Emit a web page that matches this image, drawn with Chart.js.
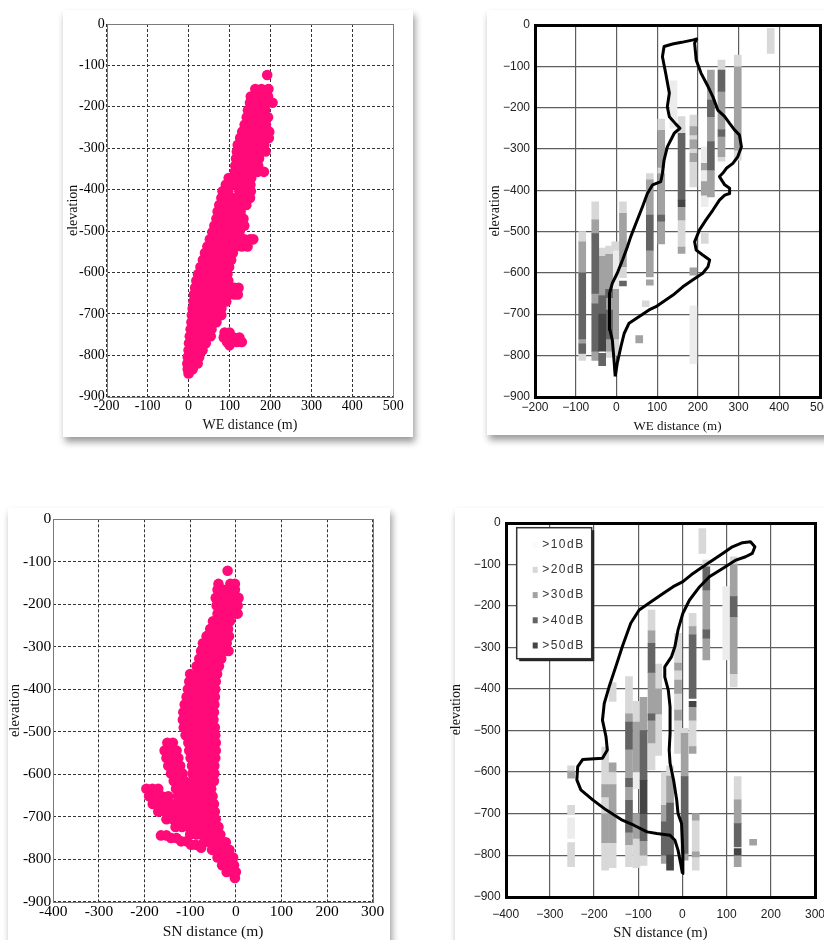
<!DOCTYPE html>
<html>
<head>
<meta charset="utf-8">
<script src="https://cdn.jsdelivr.net/npm/chart.js@4/dist/chart.umd.min.js"></script>
<style>
  html, body { margin: 0; padding: 0; background: #fff; }
  body { width: 824px; height: 940px; overflow: hidden; position: relative; }
  .card { position: absolute; background: #fff; box-shadow: 2px 5px 7px rgba(0, 0, 0, 0.4); }
  canvas { position: absolute; }
</style>
</head>
<body>
<div class="card" id="weDotsCard"></div>
<div class="card" id="weEchoCard"></div>
<div class="card" id="snDotsCard"></div>
<div class="card" id="snEchoCard"></div>
<canvas id="weDots"></canvas>
<canvas id="weEcho"></canvas>
<canvas id="snDots"></canvas>
<canvas id="snEcho"></canvas>
<script>
// ---- WE section, located events (elevation rows and WE distances per row) ----
const weElev = [-123, -157, -175, -190, -208, -225, -243, -260, -275, -292, -308, -325, -342, -357, -372, -388,
  -404, -420, -437, -453, -470, -487, -503, -520, -537, -553, -570, -587, -604, -620, -637, -653, -670, -687,
  -703, -720, -737, -754, -771, -788, -804, -820, -834, -844, -745, -757, -768, -776];
const weDist = [
  [192], [163, 178, 195], [152, 166, 180, 194], [150, 164, 178, 192, 205], [145, 159, 173, 187],
  [142, 156, 170, 184, 194], [137, 151, 165, 179, 189], [131, 145, 159, 173, 187, 197],
  [126, 140, 154, 168, 182, 196], [120, 134, 148, 162, 176, 185], [118, 132, 146, 160, 174, 188],
  [116, 130, 144, 158, 172], [114, 128, 142, 156, 170], [113, 127, 141, 155, 169, 184],
  [98, 112, 126, 140, 153], [91, 105, 119, 133, 151], [83, 97, 124, 138, 152],
  [80, 94, 108, 122, 136, 150], [75, 89, 103, 117, 131, 141], [71, 85, 99, 113, 127],
  [68, 82, 96, 110, 124, 134], [63, 77, 91, 105, 119, 136], [58, 72, 86, 100, 114, 124],
  [52, 66, 80, 94, 108, 122, 136, 150, 158], [46, 60, 74, 88, 102, 116, 130, 144],
  [40, 54, 68, 82, 96, 108], [35, 49, 63, 77, 91, 104], [29, 43, 57, 71, 85, 99],
  [23, 37, 51, 65, 79, 95], [19, 33, 47, 61, 75, 89, 97], [16, 30, 44, 58, 72, 86, 100, 112, 122],
  [13, 27, 41, 55, 69, 83, 97, 111, 120], [12, 26, 40, 54, 68, 82, 92], [10, 24, 38, 52, 66, 80],
  [8, 22, 36, 50, 64, 80], [7, 21, 35, 49, 63, 68], [5, 19, 33, 47, 56], [3, 17, 31, 45, 54],
  [1, 15, 29, 42], [0, 14, 28, 34], [-2, 12, 26], [-3, 10, 22], [-2, 10], [0],
  [88, 100], [86, 98, 110, 124], [94, 106, 118, 130], [100]
];

// ---- SN section, located events ----
const snElev = [-121, -152, -166, -185, -203, -222, -240, -258, -275, -292, -310, -328, -346, -364, -382, -400,
  -418, -436, -454, -472, -490, -508, -526, -544, -562, -580, -598, -616, -634, -652, -670, -688, -706, -724,
  -742, -760, -778, -796, -814, -830, -844, -744, -750, -758, -766, -773];
const snDist = [
  [-18], [-38, -12, -2], [-40, -27, -14, -2], [-44, -31, -18, -5, 6], [-42, -29, -16, -3, 4],
  [-40, -27, -14, -1, 4], [-50, -37, -24, -13], [-56, -43, -30, -17], [-64, -51, -38, -25, -15],
  [-72, -59, -46, -33, -20], [-76, -63, -50, -37, -22, -16], [-80, -67, -54, -41, -32],
  [-86, -73, -60, -47, -37], [-100, -88, -75, -62, -49, -41], [-102, -89, -76, -63, -50, -44],
  [-105, -92, -79, -66, -53, -45], [-108, -95, -82, -69, -56, -46], [-112, -99, -86, -73, -60, -47],
  [-115, -102, -89, -76, -63, -48], [-116, -103, -90, -77, -64, -49], [-114, -101, -88, -75, -62, -46],
  [-110, -97, -84, -71, -58, -45], [-150, -138, -104, -92, -80, -67, -54, -44],
  [-156, -143, -130, -102, -90, -78, -65, -52, -44], [-152, -139, -126, -99, -88, -76, -63, -50, -45],
  [-148, -135, -122, -96, -85, -73, -60, -47], [-142, -129, -117, -95, -84, -71, -58, -47],
  [-136, -123, -112, -94, -82, -69, -56, -48], [-196, -183, -170, -131, -118, -107, -93, -80, -67, -54],
  [-190, -176, -162, -148, -127, -114, -103, -90, -77, -64, -51],
  [-182, -168, -154, -140, -122, -109, -98, -88, -75, -62, -48],
  [-170, -156, -142, -128, -116, -103, -86, -73, -60, -46], [-152, -138, -124, -110, -97, -84, -71, -58, -44],
  [-132, -118, -104, -90, -77, -64, -51, -38], [-100, -86, -73, -60, -47, -34], [-70, -57, -44, -31, -22],
  [-52, -39, -26, -14], [-40, -27, -14, -6], [-30, -17, -4], [-20, -8, 0], [-2],
  [-164, -152], [-142, -130], [-120, -108], [-98, -88], [-76]
];

// ---- echo cells: [distance, top elevation, bottom elevation] per dB level ----
const levelLabels = ['>10dB', '>20dB', '>30dB', '>40dB', '>50dB'];
const levelColors = ['#ececec', '#d8d8d8', '#a2a2a2', '#646464', '#444444'];

const weCells10 = [[140, -135, -250], [189, -680, -820], [217, -295, -440], [-3, -545, -640]];
const weCells20 = [[-84, -500, -525], [-84, -795, -812], [-52, -428, -472], [-35, -540, -560], [-18, -535, -555],
  [-18, -790, -805], [-3, -525, -545], [-3, -760, -800], [16, -428, -456], [16, -585, -612], [82, -360, -375],
  [72, -668, -682], [110, -228, -255], [110, -345, -360], [160, -222, -262], [160, -472, -538], [189, -218, -246],
  [189, -266, -278], [189, -299, -311], [189, -331, -392], [217, -504, -529], [258, -85, -109], [258, -319, -330],
  [298, -73, -101], [298, -303, -327], [379, -8, -69]];
const weCells30 = [[-84, -525, -600], [-84, -760, -772], [-52, -472, -505], [-52, -650, -675], [-52, -790, -812],
  [-35, -560, -655], [-18, -555, -640], [-18, -660, -690], [-18, -760, -790], [-3, -640, -760], [16, -456, -585],
  [82, -375, -460], [82, -545, -610], [82, -617, -630], [56, -752, -770], [110, -255, -345], [110, -360, -460],
  [110, -475, -530], [160, -440, -472], [160, -538, -553], [189, -246, -266], [189, -278, -299], [189, -311, -331],
  [189, -588, -606], [217, -335, -351], [217, -379, -412], [232, -109, -182], [232, -222, -282], [232, -351, -416],
  [258, -161, -254], [258, -270, -319], [298, -101, -303]];
const weCells40 = [[-84, -600, -760], [-84, -772, -795], [-52, -505, -650], [-52, -675, -790], [-35, -655, -700],
  [-35, -795, -825], [-18, -640, -660], [-18, -690, -760], [16, -620, -632], [82, -460, -545], [110, -460, -475],
  [160, -262, -424], [232, -182, -222], [232, -282, -351], [258, -109, -161], [258, -254, -270]];
const weCells50 = [[-35, -700, -790], [160, -424, -440]];

const snCells10 = [[-252, -710, -760], [-104, -600, -640], [99, -154, -330]];
const snCells20 = [[-252, -585, -598], [-252, -680, -700], [-252, -770, -828], [-175, -540, -630], [-175, -660, -700],
  [-175, -770, -836], [-158, -385, -430], [-158, -600, -630], [-158, -770, -830], [-121, -370, -460],
  [-121, -775, -828], [-104, -430, -480], [-104, -760, -830], [-88, -800, -825], [-70, -210, -260],
  [-70, -530, -595], [-55, -340, -400], [-55, -460, -560], [-40, -600, -680], [-28, -585, -610], [-10, -266, -338],
  [-10, -355, -379], [-10, -411, -451], [-10, -475, -555], [5, -495, -507], [23, -218, -250], [23, -475, -539],
  [30, -716, -836], [45, -14, -74], [54, -90, -106], [116, -82, -100], [116, -363, -395], [125, -611, -667]];
const snCells30 = [[-252, -598, -615], [-175, -630, -660], [-175, -700, -770], [-158, -578, -600], [-158, -630, -770],
  [-121, -460, -480], [-121, -545, -615], [-121, -635, -668], [-121, -745, -775], [-104, -480, -600],
  [-104, -700, -760], [-88, -420, -500], [-88, -765, -800], [-70, -260, -290], [-70, -360, -460], [-70, -475, -530],
  [-55, -400, -460], [-40, -680, -720], [-40, -800, -820], [-28, -610, -675], [-10, -338, -355], [-10, -379, -411],
  [-10, -451, -475], [5, -507, -611], [5, -796, -812], [23, -250, -270], [23, -443, -475], [23, -539, -555],
  [30, -700, -716], [30, -792, -804], [54, -162, -258], [54, -278, -330], [116, -100, -178], [116, -226, -363],
  [125, -667, -724], [125, -800, -828], [160, -762, -776]];
const snCells40 = [[-121, -480, -545], [-121, -615, -635], [-121, -668, -745], [-88, -500, -620], [-88, -700, -765],
  [-70, -290, -360], [-70, -460, -475], [-40, -720, -800], [-28, -675, -800], [5, -611, -796], [23, -270, -423],
  [54, -106, -162], [54, -258, -278], [116, -178, -226], [125, -724, -780]];
const snCells50 = [[-88, -620, -700], [-28, -800, -836], [23, -430, -443], [125, -784, -800]];

// ---- ore body outlines [distance, elevation] ----
const weOutline = [[-3, -851], [-6, -811], [-10, -763], [-16, -738], [-18, -682], [-16, -650], [-10, -625], [2, -601],
  [15, -569], [27, -537], [35, -513], [48, -480], [64, -440], [76, -408], [89, -387], [109, -379], [113, -359],
  [117, -327], [125, -295], [142, -262], [156, -250], [146, -240], [130, -222], [125, -198], [130, -165], [121, -117],
  [113, -77], [117, -52], [138, -46], [160, -42], [189, -36], [197, -34], [192, -44], [196, -85], [208, -117],
  [225, -149], [237, -174], [249, -206], [266, -222], [278, -238], [290, -254], [302, -266], [307, -295], [298, -319],
  [286, -335], [270, -347], [261, -359], [253, -367], [266, -387], [278, -395], [278, -408], [266, -412], [253, -424],
  [237, -448], [220, -472], [204, -496], [192, -525], [196, -545], [212, -557], [229, -569], [225, -585], [212, -601],
  [188, -617], [163, -634], [139, -654], [97, -682], [80, -690], [56, -706], [31, -722], [19, -747], [11, -779],
  [2, -819], [-3, -851]];
const snOutline = [[0, -844], [1, -796], [-2, -724], [-10, -700], [-13, -667], [-20, -620], [-28, -579], [-30, -547],
  [-28, -507], [-28, -443], [-32, -403], [-40, -371], [-40, -347], [-25, -323], [-17, -298], [-10, -258], [1, -218],
  [16, -186], [39, -154], [61, -130], [91, -110], [121, -90], [143, -82], [158, -74], [164, -58], [154, -46],
  [136, -48], [113, -58], [91, -74], [69, -90], [46, -106], [24, -122], [1, -142], [-21, -154], [-43, -170],
  [-76, -194], [-98, -210], [-117, -242], [-136, -298], [-151, -347], [-166, -395], [-177, -435], [-181, -475],
  [-173, -515], [-170, -547], [-181, -567], [-226, -570], [-237, -587], [-239, -619], [-230, -643], [-203, -667],
  [-173, -691], [-136, -716], [-110, -728], [-80, -744], [-58, -748], [-28, -752], [-17, -764], [-10, -788],
  [-4, -820], [0, -844]];

const PINK = '#ff0a78';
const SERIF = "'Liberation Serif', 'Times New Roman', serif";
const SANS = "'Liberation Sans', Arial, sans-serif";

document.addEventListener('DOMContentLoaded', function() {
    Chart.defaults.animation = false;

    const dotted = { tickFamily: SERIF, tickColor: '#000', gridColor: '#333', gridWidth: 1, gridDash: [3, 2],
        frameColor: '#7a7a7a', frameWidth: 1, unicodeMinus: false };
    const boxed = { tickFamily: SANS, tickColor: '#222', gridColor: '#5e5e5e', gridWidth: 1.2, gridDash: [],
        frameColor: '#000', frameWidth: 3, unicodeMinus: true };

    generateDotChart(Object.assign({
        id: 'weDots', card: [63, 10, 350, 427], plot: [106.7, 24, 393.3, 396.7], xMin: -200, xMax: 500,
        xTitle: 'WE distance (m)', yTitleX: 73.3, yTitleSize: 14, xTitleY: 425, xTitleSize: 14,
        tickSize: 14, yTickPad: 2, xLabelY: 406
    }, dotted), rowsToPoints(weElev, weDist));

    generateEchoChart(Object.assign({
        id: 'weEcho', card: [487, 10, 360, 425], plot: [535, 25, 820, 396.7], xMin: -200, xMax: 500,
        xTitle: 'WE distance (m)', yTitleX: 495, yTitleSize: 14, xTitleY: 426.7, xTitleSize: 13,
        tickSize: 12, yTickPad: 5, xLabelY: 408, legend: false
    }, boxed), [weCells10, weCells20, weCells30, weCells40, weCells50], weOutline);

    generateDotChart(Object.assign({
        id: 'snDots', card: [8, 508, 382, 450], plot: [53.3, 519.3, 372.7, 901.7], xMin: -400, xMax: 300,
        xTitle: 'SN distance (m)', yTitleX: 15, yTitleSize: 14.5, xTitleY: 932.3, xTitleSize: 15.5,
        tickSize: 15.5, yTickPad: 2, xLabelY: 911.7
    }, dotted), rowsToPoints(snElev, snDist));

    generateEchoChart(Object.assign({
        id: 'snEcho', card: [455, 508, 380, 450], plot: [505.7, 522.7, 815, 896.7], xMin: -400, xMax: 300,
        xTitle: 'SN distance (m)', yTitleX: 456, yTitleSize: 14, xTitleY: 933.3, xTitleSize: 14.5,
        tickSize: 12, yTickPad: 5, xLabelY: 915, legend: true
    }, boxed), [snCells10, snCells20, snCells30, snCells40, snCells50], snOutline);
});

function rowsToPoints(elev, dist) {
    const pts = [];
    elev.forEach((y, i) => dist[i].forEach(x => pts.push({ x: x, y: y })));
    return pts;
}

function place(el, l, t, w, h) {
    el.style.left = l + 'px';
    el.style.top = t + 'px';
    el.style.width = w + 'px';
    el.style.height = h + 'px';
}

// size card + canvas and work out padding so the plot area lands where the picture has it
function layoutPanel(p) {
    const [cl0, ct0, cw0, ch0] = p.card;
    place(document.getElementById(p.id + 'Card'), cl0, ct0, cw0, ch0);
    const cl = cl0 - 10, ct = ct0 - 10, cw = cw0 + 20, ch = ch0 + 20;
    const canvas = document.getElementById(p.id);
    canvas.width = cw;
    canvas.height = ch;
    place(canvas, cl, ct, cw, ch);

    const [pl, pt, pr, pb] = p.plot;
    const padLeft = p.yTitleX - p.yTitleSize * 0.6 - cl;
    const xBottom = p.xTitleY + p.xTitleSize * 0.6;
    return {
        canvas: canvas,
        padding: { left: padLeft, top: pt - ct, right: cl + cw - pr, bottom: ct + ch - xBottom },
        yWidth: pl - cl - padLeft,
        xHeight: xBottom - pb,
        xTickPad: p.xLabelY - pb - p.tickSize * 0.6
    };
}

function makeScales(p, lay) {
    const tickFont = { family: p.tickFamily, size: p.tickSize };
    const fmt = p.unicodeMinus ? v => (v < 0 ? '\u2212' + (-v) : String(v)) : v => String(v);
    const grid = () => ({ color: p.gridColor, lineWidth: p.gridWidth, drawTicks: false, offset: false });
    const border = () => ({ display: false, dash: p.gridDash });
    return {
        x: {
            type: 'linear', min: p.xMin, max: p.xMax, offset: false,
            grid: grid(), border: border(),
            ticks: { stepSize: 100, autoSkip: false, maxRotation: 0, padding: lay.xTickPad,
                color: p.tickColor, font: tickFont, callback: fmt },
            title: { display: true, text: p.xTitle, color: '#111',
                font: { family: SERIF, size: p.xTitleSize }, padding: 0 },
            afterFit: s => { s.height = lay.xHeight; }
        },
        y: {
            type: 'linear', min: -900, max: 0, stacked: false,
            grid: grid(), border: border(),
            ticks: { stepSize: 100, autoSkip: false, padding: p.yTickPad,
                color: p.tickColor, font: tickFont, callback: fmt },
            title: { display: true, text: 'elevation', color: '#111',
                font: { family: SERIF, size: p.yTitleSize }, padding: 0 },
            afterFit: s => { s.width = lay.yWidth; }
        }
    };
}

const framePlugin = {
    id: 'frame',
    afterDraw(chart, args, opts) {
        const { left, top, right, bottom } = chart.chartArea;
        const ctx = chart.ctx;
        const off = opts.width % 2 ? 0.5 : 0;
        const l = Math.round(left) + off, t = Math.round(top) + off;
        ctx.save();
        ctx.strokeStyle = opts.color;
        ctx.lineWidth = opts.width;
        ctx.strokeRect(l, t, Math.round(right) - Math.round(left), Math.round(bottom) - Math.round(top));
        ctx.restore();
    }
};

const dbLegendPlugin = {
    id: 'dbLegend',
    afterDraw(chart, args, opts) {
        if (!opts.show) return;
        const { ctx, chartArea } = chart;
        const x0 = chartArea.left + 11, y0 = chartArea.top + 5, w = 75, h = 131;
        ctx.save();
        ctx.fillStyle = '#222';
        ctx.fillRect(x0 + 2.5, y0 + 2.5, w, h);
        ctx.fillStyle = '#fff';
        ctx.fillRect(x0, y0, w, h);
        ctx.strokeStyle = '#333';
        ctx.lineWidth = 1.5;
        ctx.strokeRect(x0, y0, w, h);
        ctx.font = '12px ' + SANS;
        ctx.letterSpacing = '1.5px';
        ctx.textAlign = 'right';
        ctx.textBaseline = 'middle';
        levelLabels.forEach((lab, i) => {
            const y = y0 + 17 + i * 25.2;
            ctx.fillStyle = i === 0 ? '#fafafa' : levelColors[i];
            ctx.fillRect(x0 + 16, y - 3, 5, 6);
            ctx.fillStyle = '#333';
            ctx.fillText(lab, x0 + 68, y);
        });
        ctx.restore();
    }
};

function generateDotChart(p, points) {
    const lay = layoutPanel(p);
    new Chart(lay.canvas.getContext('2d'), {
        type: 'scatter',
        data: {
            datasets: [{
                data: points,
                pointRadius: 5.3,
                pointBackgroundColor: PINK,
                pointBorderWidth: 0,
                showLine: false
            }]
        },
        options: {
            responsive: false,
            devicePixelRatio: 1,
            events: [],
            layout: { padding: lay.padding },
            scales: makeScales(p, lay),
            plugins: {
                legend: { display: false },
                tooltip: { enabled: false },
                frame: { color: p.frameColor, width: p.frameWidth }
            }
        },
        plugins: [framePlugin]
    });
}

function generateEchoChart(p, levels, outline) {
    const lay = layoutPanel(p);
    const cells = [], colors = [];
    levels.forEach((list, i) => {
        list.forEach(c => {
            cells.push({ x: c[0], y: [c[1], c[2]] });
            colors.push(levelColors[i]);
        });
    });
    new Chart(lay.canvas.getContext('2d'), {
        type: 'scatter',
        data: {
            datasets: [{
                order: 0,
                data: outline.map(pt => ({ x: pt[0], y: pt[1] })),
                showLine: true,
                borderColor: '#000',
                borderWidth: 3,
                borderJoinStyle: 'round',
                pointRadius: 0,
                fill: false,
                tension: 0
            }, {
                type: 'bar',
                order: 1,
                data: cells,
                backgroundColor: colors,
                borderWidth: 0,
                barThickness: 7
            }]
        },
        options: {
            responsive: false,
            devicePixelRatio: 1,
            events: [],
            layout: { padding: lay.padding },
            scales: makeScales(p, lay),
            plugins: {
                legend: { display: false },
                tooltip: { enabled: false },
                frame: { color: p.frameColor, width: p.frameWidth },
                dbLegend: { show: p.legend }
            }
        },
        plugins: [framePlugin, dbLegendPlugin]
    });
}
</script>
</body>
</html>
